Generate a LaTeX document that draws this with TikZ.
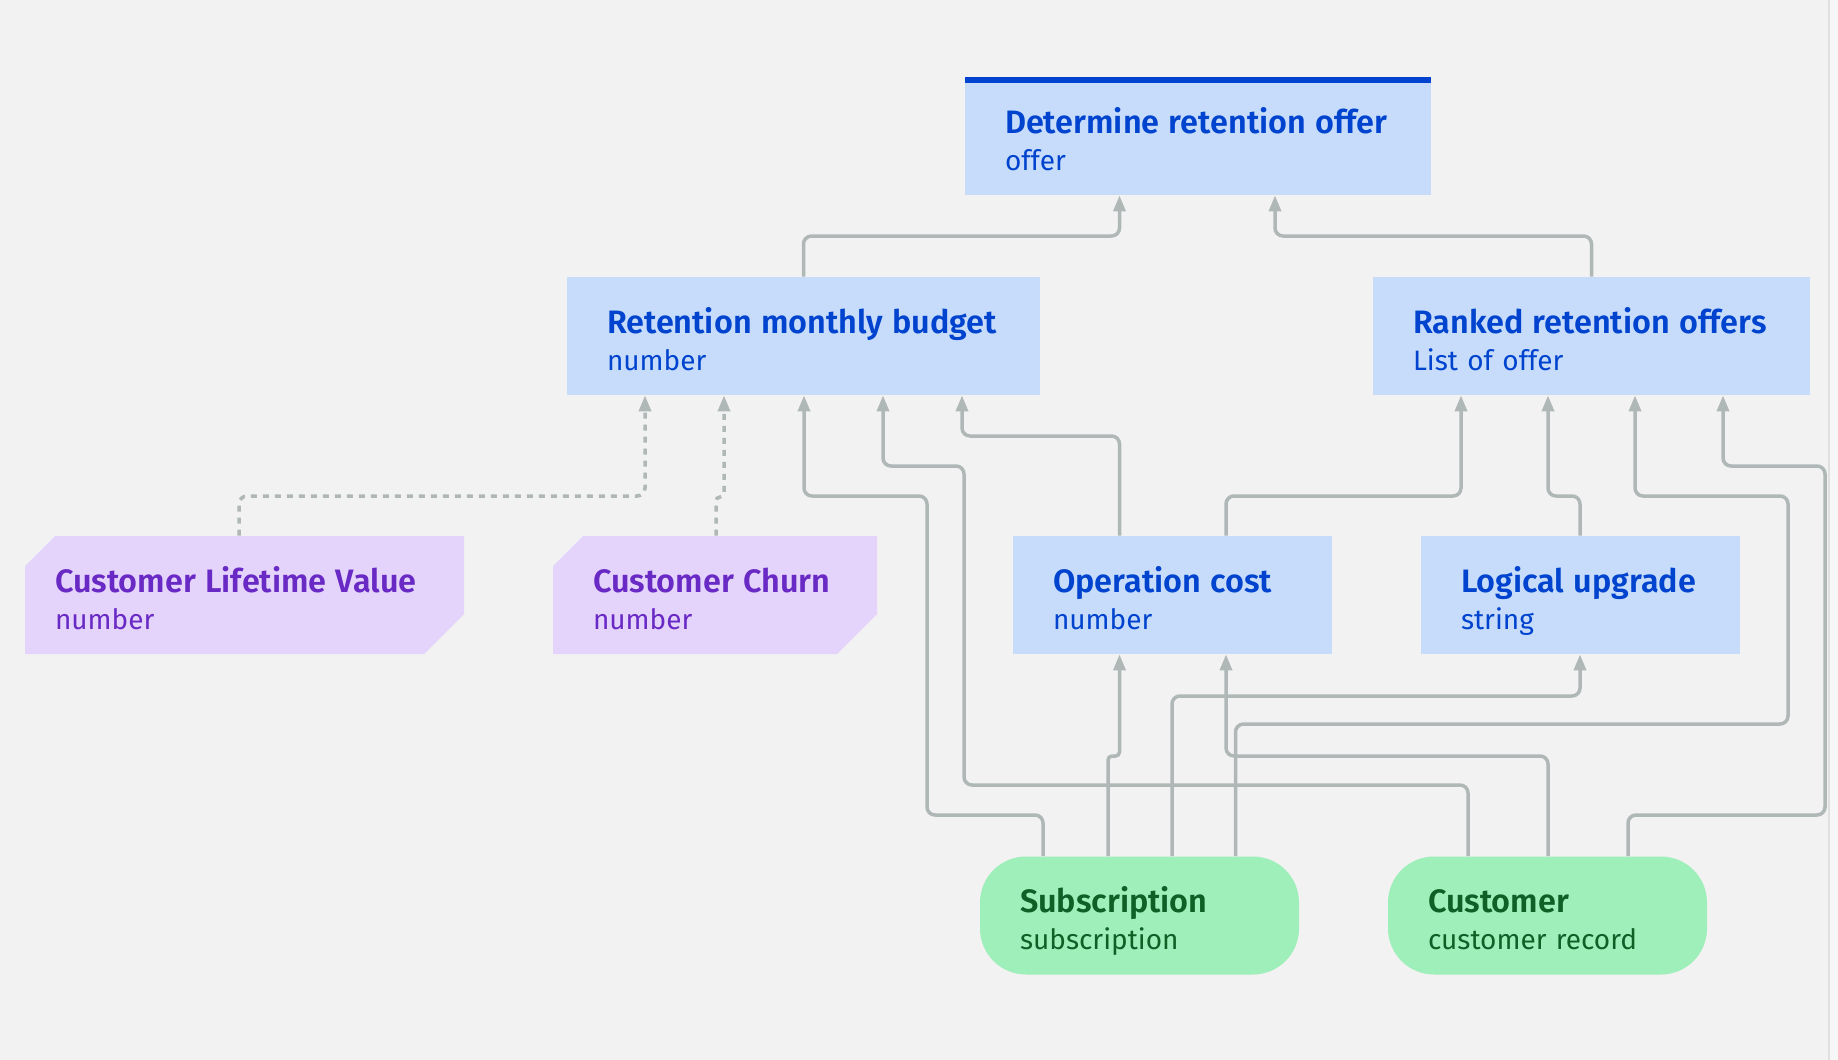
\documentclass[tikz,border=0pt]{standalone}
\usepackage{fontspec}
\setmainfont{Fira Sans}[BoldFont={Fira Sans SemiBold}]
\usepackage{xcolor}
\usepackage{tikz}
\usetikzlibrary{arrows.meta}

\definecolor{bgcol}{HTML}{F2F2F2}
\definecolor{decfill}{HTML}{C6DCFA}
\definecolor{dectext}{HTML}{0043CE}
\definecolor{knowfill}{HTML}{E4D4FB}
\definecolor{knowtext}{HTML}{6929C4}
\definecolor{infill}{HTML}{9EEFB9}
\definecolor{intext}{HTML}{0E6027}
\definecolor{wiregray}{HTML}{AFB7B7}

% title line and type line, with fixed height and depth
\newcommand{\twoline}[2]{%
  \mbox{\rule{0pt}{19.5pt}\fontsize{16.2}{18.5}\selectfont\bfseries #1}\\
  \mbox{\rule[-4pt]{0pt}{4pt}#2}}

\tikzset{
  box/.style={rectangle, inner xsep=20pt, inner ysep=0pt, minimum height=59pt,
    align=left, font=\fontsize{14}{18.5}\selectfont},
  decision/.style={box, fill=decfill, text=dectext},
  knowledge/.style={box, text=knowtext, path picture={
    \fill[knowfill] ([yshift=-15pt]path picture bounding box.north west)
      -- ([xshift=15pt]path picture bounding box.north west)
      -- (path picture bounding box.north east)
      -- ([yshift=20pt]path picture bounding box.south east)
      -- ([xshift=-20pt]path picture bounding box.south east)
      -- (path picture bounding box.south west) -- cycle;}},
  inputdata/.style={box, fill=infill, text=intext, rounded corners=23pt},
  wire/.style={draw=wiregray, line width=1.75pt, rounded corners=4pt,
    -{Triangle[length=8pt,width=6pt]}},
  softwire/.style={wire, dash pattern=on 3pt off 3pt},
}

\begin{document}
\begin{tikzpicture}[x=0.5pt,y=-0.5pt]
  \useasboundingbox (0,0) rectangle (1838,1060);
  \fill[bgcol] (0,0) rectangle (1838,1060);
  \fill[white!97!black] (1829,0) rectangle (1838,1060);
  \draw[black!12,line width=1pt] (1829,0) -- (1829,1060);

  % decisions
  \node[decision, text width=193pt] (det) at (1198,136)
    {\twoline{Determine retention offer}{offer}};
  \fill[dectext] (det.north west) rectangle ([yshift=-3pt]det.north east);
  \node[decision, text width=196.5pt] (budget) at (803.5,336)
    {\twoline{Retention monthly budget}{number}};
  \node[decision, text width=178.5pt] (ranked) at (1591.5,336)
    {\twoline{Ranked retention offers}{List of offer}};
  \node[decision, text width=119.5pt] (opcost) at (1172.5,595)
    {\twoline{Operation cost}{number}};
  \node[decision, text width=119.5pt] (logical) at (1580.5,595)
    {\twoline{Logical upgrade}{string}};

  % knowledge sources
  \node[knowledge, inner xsep=15pt, text width=189.5pt] (clv) at (244.5,595)
    {\twoline{Customer Lifetime Value}{number}};
  \node[knowledge, text width=122pt] (churn) at (715,595)
    {\twoline{Customer Churn}{number}};

  % input data
  \node[inputdata, text width=119.5pt] (sub) at (1139.5,915.5)
    {\twoline{Subscription}{subscription}};
  \node[inputdata, text width=119.5pt] (cust) at (1547.5,915.5)
    {\twoline{Customer}{customer record}};

  % requirements into the top decision
  \draw[wire] (budget.north) |- (1119.5,236) -- (1119.5,0 |- det.south);
  \draw[wire] (ranked.north) |- (1275,236) -- (1275,0 |- det.south);

  % into Retention monthly budget
  \draw[softwire] (239,0 |- clv.north) |- (645,496) -- (645,0 |- budget.south);
  \draw[softwire, rounded corners=2pt] (716,0 |- churn.north) |- (724,497)
    -- (724,0 |- budget.south);
  \draw[wire] (1043,0 |- sub.north) |- (927,815) |- (804,496)
    -- (804,0 |- budget.south);
  \draw[wire] (1468,0 |- cust.north) |- (964,785) |- (883,466)
    -- (883,0 |- budget.south);
  \draw[wire] (1119.5,0 |- opcost.north) |- (962,436) -- (962,0 |- budget.south);

  % into Ranked retention offers
  \draw[wire] (1226,0 |- opcost.north) |- (1461,496) -- (1461,0 |- ranked.south);
  \draw[wire] (1580,0 |- logical.north) |- (1548,496) -- (1548,0 |- ranked.south);
  \draw[wire] (1235.5,0 |- sub.north) |- (1788,724) |- (1635,496)
    -- (1635,0 |- ranked.south);
  \draw[wire] (1628,0 |- cust.north) |- (1825,815) |- (1723,466)
    -- (1723,0 |- ranked.south);

  % into Operation cost and Logical upgrade
  \draw[wire, rounded corners=2pt] (1108,0 |- sub.north) |- (1119.5,756)
    -- (1119.5,0 |- opcost.south);
  \draw[wire] (1548,0 |- cust.north) |- (1226,756) -- (1226,0 |- opcost.south);
  \draw[wire] (1172,0 |- sub.north) |- (1580,696) -- (1580,0 |- logical.south);
\end{tikzpicture}
\end{document}
